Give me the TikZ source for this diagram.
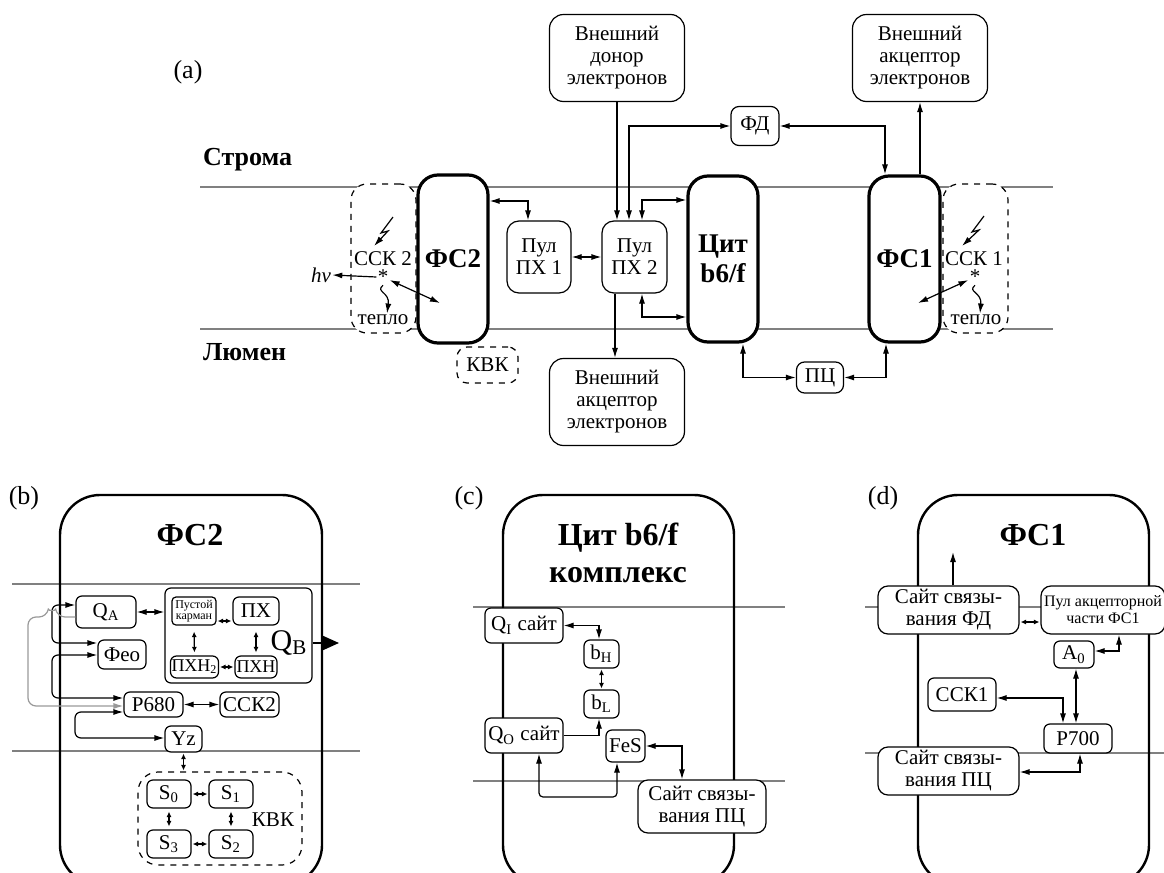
\documentclass[tikz,border=0pt]{standalone}
\usepackage{fontspec}
\setmainfont{Liberation Serif}
\usepackage{tikz}
\usetikzlibrary{shapes,arrows.meta,positioning}

\begin{document}
\begin{tikzpicture}[x=0.5pt,y=-0.5pt,
  font=\fontsize{10.5}{11}\selectfont,
  sz/.style 2 args={minimum width=#1pt,minimum height=#2pt},
  box/.style={draw, fill=white, line width=0.6pt, rounded corners=#1, align=center, inner sep=0.5pt},
  box/.default=3pt,
  cplx/.style={draw, fill=white, line width=1.6pt, rounded corners=10pt, align=center,
    font=\fontsize{13.5}{15}\selectfont\bfseries},
  dbox/.style={draw, fill=white, dashed, line width=0.6pt, rounded corners=#1},
  dbox/.default=8pt,
  big/.style={draw, line width=1.2pt, rounded corners=20pt, minimum width=#1, minimum height=195pt},
  memb/.style={black!50, line width=0.7pt},
  ar/.style={line width=0.6pt, -{Latex[length=5pt,width=3pt]}},
  dar/.style={line width=0.6pt, {Latex[length=5pt,width=3pt]}-{Latex[length=5pt,width=3pt]}},
  sdar/.style={line width=0.6pt, {Latex[length=2.8pt,width=2.6pt]}-{Latex[length=2.8pt,width=2.6pt]},
    shorten <=0.5pt, shorten >=0.5pt},
  lbl/.style={font=\fontsize{13}{14}\selectfont},
  zone/.style={font=\fontsize{13}{14}\selectfont\bfseries, anchor=west},
  ttl/.style={font=\fontsize{16}{18.5}\selectfont\bfseries, align=center},
  tight/.style={inner sep=0.5pt}
]
\useasboundingbox (0,0) rectangle (1164,873);
\clip (0,0) rectangle (1164,873);

% (a) membrane scheme
\node[lbl] (la) at (188,72) {(a)};
\draw[memb] (200,187) -- (1053,187);
\draw[memb] (200,329) -- (1053,329);
\node[zone] (stroma) at (196,160) {Строма};
\node[zone] (lumen) at (196,352) {Люмен};

\node[box=7pt, sz={67.5}{43.5}] (donor) at (617,58) {Внешний\\донор\\электронов};
\node[box=7pt, sz={67.5}{43.5}] (accTop) at (920,58) {Внешний\\акцептор\\электронов};
\node[box=7pt, sz={67.5}{43.5}] (accBot) at (617,402) {Внешний\\акцептор\\электронов};
\node[box=4pt, sz={24}{19.5}] (fd) at (755,126) {ФД};
\node[box=4pt, sz={23.5}{15.5}] (pc) at (820,377.5) {ПЦ};
\node[box=6pt, sz={32}{36}] (pool1) at (539,257) {Пул\\ПХ 1};
\node[box=6pt, sz={32.5}{36}] (pool2) at (634.5,257) {Пул\\ПХ 2};
\node[dbox, sz={32.5}{74.5}] (lhcII) at (383.5,258.5) {};
\node[dbox, sz={32.5}{74.5}] (lhcI) at (975.5,258.5) {};
\node[dbox=5pt, sz={30.5}{18}] (oecA) at (487.5,365) {КВК};
\node[cplx, sz={35}{84}] (fsII) at (453,259) {ФС2};
\node[cplx, sz={35}{83}] (cyt) at (723,259) {Цит\\b6/f};
\node[cplx, sz={35.5}{83}] (fsI) at (904.5,259) {ФС1};

\draw[dar] (fsII.east |- 0,201) -| (pool1.north -| 528,0);
\draw[dar] (pool1) -- (pool2);
\draw[ar] (donor.south) -- (donor.south |- pool2.north);
\draw[dar] (pool2.north -| 629,0) |- (fd.west);
\draw[dar] (fd.east) -| (fsI.north -| 885,0);
\draw[dar] (pool2.north -| 642,0) |- (cyt.west |- 0,200);
\draw[dar] (pool2.south -| 642,0) |- (cyt.west |- 0,317);
\draw[ar] (pool2.south -| 615,0) -- (accBot.north -| 615,0);
\draw[dar] (cyt.south -| 743,0) |- (pc.west);
\draw[dar] (pc.east) -| (fsI.south -| 886,0);
\draw[ar] (fsI.north -| accTop.south) -- (accTop.south);

% antenna of PS2
\node[tight] (lhc2) at (383,259) {ССК 2};
\node[tight] (star2) at (383,277) {*};
\node[tight] (hv) at (321,275) {\textit{hν}};
\node[tight] (heat2) at (383,320) {тепло};
\coordinate (fs2in) at (440,303);
\draw[ar] (393,217) -- (381,233) -- (388,231) -- (374,246);
\draw[ar] (star2.west) -- (hv.east);
\draw[dar] (star2) -- (fs2in);
\draw[ar] (star2.south) .. controls (375,292) and (390,292) .. ([xshift=2pt]heat2.north);

% antenna of PS1
\node[tight] (lhc1) at (974,259) {ССК 1};
\node[tight] (star1) at (975,277) {*};
\node[tight] (heat1) at (976,320) {тепло};
\coordinate (fs1in) at (918,303);
\draw[ar] (984,216) -- (972,232) -- (979,230) -- (962,246);
\draw[dar] (star1) -- (fs1in);
\draw[ar] (star1.south) .. controls (967,292) and (982,292) .. ([xshift=2pt]heat1.north);

% (b) PS2
\node[lbl] (lb) at (24,498) {(b)};
\draw[memb] (12,584) -- (360,584);
\draw[memb] (12,751) -- (360,751);
\node[big=131pt] (bII) at (191,690) {};
\node[ttl] (tII) at (190,535) {ФС2};

\node[box, sz={30}{16}] (qa) at (106,612) {Q\textsubscript{A}};
\node[box, sz={73.5}{47.5}] (qbbox) at (238.5,635.5) {};
\node[box=2pt, sz={22}{14}, font=\fontsize{6}{5.5}\selectfont] (empty) at (194,611) {Пустой\\карман};
\node[box, sz={23}{14}] (pq) at (256,611) {ПХ};
\node[box, sz={22.5}{11}, font=\fontsize{9}{9}\selectfont] (pqh2) at (194.5,667) {ПХН\textsubscript{2}};
\node[box, sz={21}{11}, font=\fontsize{9}{9}\selectfont] (pqh) at (256,667) {ПХН};
\node[font=\fontsize{15}{15}\selectfont] (qbl) at (289,643) {Q\textsubscript{B}};
\coordinate (qbout) at (339,643);
\node[box, sz={24}{14.5}] (feo) at (122,654.5) {Фео};
\node[box, sz={29.5}{12.5}] (p680) at (153.5,704.5) {P680};
\node[box, sz={29.5}{12.5}] (lhc2b) at (249.5,704.5) {ССК2};
\node[box, sz={18.5}{13}] (yz) at (183.5,739) {Yz};
\node[dbox=10pt, fill=none, sz={82}{46.5}] (oecB) at (220,818.5) {};
\node[box, sz={22}{14}] (s0) at (169,794) {S\textsubscript{0}};
\node[box, sz={22}{14}] (s1) at (231,794) {S\textsubscript{1}};
\node[box, sz={22}{14}] (s3) at (169,844) {S\textsubscript{3}};
\node[box, sz={22}{14}] (s2) at (231,844) {S\textsubscript{2}};
\node (kvk) at (273,820) {КВК};

\draw[dar] (qa) -- (qbbox.west |- qa);
\draw[sdar] (empty.east |- 0,621) -- (pq.west |- 0,621);
\draw[sdar, shorten <=3pt, shorten >=1.5pt] (empty.south) -- (pqh2.north);
\draw[sdar, shorten <=3pt, shorten >=1.5pt] (pq.south) -- (pqh.north);
\draw[sdar] (pqh2) -- (pqh);
\draw[line width=0.8pt, -{Triangle[length=8pt,width=7pt]}] (qbbox.east |- qbout) -- (qbout);
\draw[dar, rounded corners=3pt] (qa.west |- 0,605) -- (52,605) -- (52,643) -- (feo.west |- 0,643);
\draw[dar, rounded corners=3pt] (feo.west |- 0,655) -- (52,655) -- (52,698) -- (p680.west |- 0,698);
\draw[ar, black!40, rounded corners=4pt] (qa.west |- 0,617) -- (57,617)
  .. controls (56,611) and (48,611) .. (47,617) -- (28,617) -- (28,706) -- (p680.west |- 0,706);
\draw[dar, rounded corners=3pt] (p680.west |- 0,712) -- (75,712) -- (75,738) -- (yz.west |- 0,738);
\draw[dar] (p680) -- (lhc2b);
\draw[sdar] (yz.south) -- (yz.south |- oecB.north);
\draw[sdar] (s0) -- (s1);
\draw[sdar] (s3) -- (s2);
\draw[sdar, shorten <=1.5pt, shorten >=1.5pt] (s0) -- (s3);
\draw[sdar, shorten <=1.5pt, shorten >=1.5pt] (s1) -- (s2);

% (c) cyt b6/f
\node[lbl] (lc) at (469,498) {(c)};
\draw[memb] (473,607) -- (785,607);
\draw[memb] (473,781) -- (785,781);
\node[big=115.5pt] (bCyt) at (618.5,690) {};
\node[ttl] (tCyt) at (618,553) {Цит b6/f\\комплекс};

\node[box, sz={39}{17.5}] (qi) at (524,625.5) {Q\textsubscript{I} сайт};
\node[box, sz={17.5}{14}] (bh) at (601.5,654) {b\textsubscript{H}};
\node[box, sz={17.5}{14}] (bl) at (601.5,704) {b\textsubscript{L}};
\node[box, sz={39}{17.5}] (qo) at (524,735.5) {Q\textsubscript{O} сайт};
\node[box, sz={19.5}{16}] (fes) at (625.5,746) {FeS};
\node[box=5pt, sz={64}{26.5}] (pcsite) at (702,806.5) {Сайт связы-\\вания ПЦ};

\draw[dar] (qi.east) -| (bh.north -| 599,0);
\draw[sdar] (bh) -- (bl);
\draw[ar] (qo.east) -| (bl.south -| 599,0);
\draw[dar, rounded corners=2pt] (qo.south -| 539,0) -- (539,797) -- (617,797) -- (fes.south -| 617,0);
\draw[dar] (fes.east) -| (pcsite.north -| 682,0);

% (d) PS1
\node[lbl] (ld) at (883,498) {(d)};
\draw[memb] (865,607) -- (1164,607);
\draw[memb] (865,753) -- (1164,753);
\node[big=115.5pt] (bI) at (1033.5,690) {};
\node[ttl] (tI) at (1033,535) {ФС1};

\node[box=5pt, sz={70.5}{24}] (fdsite) at (948.5,610) {Сайт связы-\\вания ФД};
\node[box=5pt, sz={62}{24}, font=\fontsize{8}{8.5}\selectfont] (pool) at (1103,610) {Пул акцепторной\\части ФС1};
\node[box, sz={20}{13.5}] (a0) at (1074,654.5) {A\textsubscript{0}};
\node[box, sz={34}{16.5}] (lhc1d) at (962,694.5) {ССК1};
\node[box, sz={34}{14.5}] (p700) at (1078,738.5) {P700};
\node[box=5pt, sz={70.5}{24}] (pcsited) at (948.5,771) {Сайт связы-\\вания ПЦ};
\coordinate (fdout) at (953,552);

\draw[ar] (fdsite.north -| fdout) -- (fdout);
\draw[sdar] (fdsite.east |- 0,622) -- (pool.west |- 0,622);
\draw[dar] (a0.east |- 0,651) -| (pool.south -| 1119,0);
\draw[dar] (a0.south -| 1076,0) -- (p700.north -| 1076,0);
\draw[dar] (lhc1d.east |- 0,698) -| (p700.north -| 1063,0);
\draw[dar] (pcsited.east |- 0,772) -| (p700.south -| 1080,0);
\end{tikzpicture}
\end{document}
